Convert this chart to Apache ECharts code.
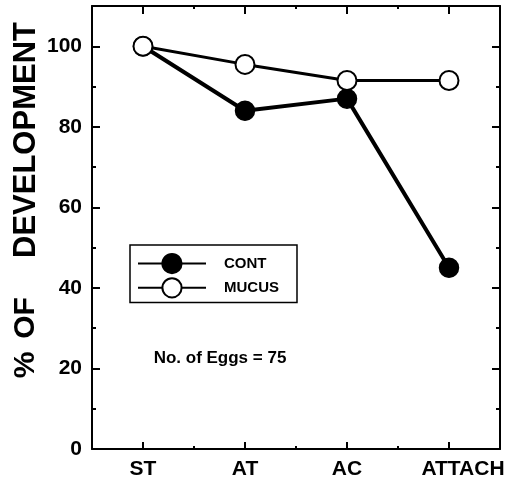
<!DOCTYPE html>
<html>
<head>
<meta charset="utf-8">
<script src="https://cdn.jsdelivr.net/npm/echarts@6/dist/echarts.min.js"></script>
<style>html,body{margin:0;padding:0;background:#fff}#c{width:510px;height:488px}</style>
</head>
<body>
<div id="c"></div>
<script>
const categories = ['ST', 'AT', 'AC', 'ATTACH'];
const contValues = [100, 84, 87, 45];
const mucusValues = [100, 95.5, 91.5, 91.5];
const seriesNames = ['CONT', 'MUCUS'];
const yMin = 0, yMax = 110, yMajor = 20, yMinor = 10;
const yTitleParts = ['DEVELOPMENT', 'OF', '%'];
const noteText = 'No. of Eggs = 75';

const FONT = '"Liberation Sans", Arial, Helvetica, sans-serif';
const chart = echarts.init(document.getElementById('c'), null, {renderer: 'canvas'});

const catData = categories.map(c => c === 'ATTACH'
  ? {value: c, textStyle: {padding: [0, 0, 0, 28]}}
  : c);

const gridBox = {left: 92, right: 10, top: 6, bottom: 39};
const axLine = {show: true, onZero: false, lineStyle: {color: '#000', width: 2}};
const noLine = {show: false, onZero: false};

const option = {
  backgroundColor: '#fff',
  animation: false,
  textStyle: {fontFamily: FONT},
  grid: [Object.assign({}, gridBox), Object.assign({}, gridBox)],
  legend: {
    orient: 'vertical', left: 130, top: 245,
    data: seriesNames,
    itemWidth: 68, itemHeight: 24, itemGap: 3,
    padding: [8, 18, 4, 7],
    borderColor: '#000', borderWidth: 1.5, borderRadius: 0,
    textStyle: {fontFamily: FONT, fontSize: 15, fontWeight: 'bold', color: '#000', padding: [0, 0, 0, 13]},
    lineStyle: {width: 2}
  },
  xAxis: [
    {gridIndex: 0, type: 'category', position: 'bottom', data: catData, boundaryGap: true,
     axisLine: axLine,
     axisTick: {show: true, alignWithLabel: true, inside: true, length: 7, lineStyle: {color: '#000', width: 2}},
     axisLabel: {interval: 0, color: '#000', fontSize: 21, fontWeight: 'bold', fontFamily: FONT, margin: 10, hideOverlap: false},
     splitLine: {show: false}},
    {gridIndex: 0, type: 'category', position: 'top', data: categories, boundaryGap: true,
     axisLine: axLine,
     axisTick: {show: true, alignWithLabel: true, inside: true, length: 8, lineStyle: {color: '#000', width: 2}},
     axisLabel: {show: false}, splitLine: {show: false}},
    {gridIndex: 1, type: 'category', position: 'bottom', data: categories, boundaryGap: true,
     axisLine: noLine,
     axisTick: {show: true, interval: 0, inside: true, length: 3, lineStyle: {color: '#000', width: 2}},
     axisLabel: {show: false}, splitLine: {show: false}},
    {gridIndex: 1, type: 'category', position: 'top', data: categories, boundaryGap: true,
     axisLine: noLine,
     axisTick: {show: true, interval: 0, inside: true, length: 3, lineStyle: {color: '#000', width: 2}},
     axisLabel: {show: false}, splitLine: {show: false}}
  ],
  yAxis: [
    {gridIndex: 0, type: 'value', position: 'left', min: yMin, max: yMax, interval: yMajor,
     axisLine: axLine,
     axisTick: {show: true, inside: true, length: 8, lineStyle: {color: '#000', width: 2}},
     axisLabel: {color: '#000', fontSize: 21, fontWeight: 'bold', fontFamily: FONT, margin: 10, showMaxLabel: false},
     splitLine: {show: false}},
    {gridIndex: 0, type: 'value', position: 'right', min: yMin, max: yMax, interval: yMajor,
     axisLine: axLine,
     axisTick: {show: true, inside: true, length: 8, lineStyle: {color: '#000', width: 2}},
     axisLabel: {show: false}, splitLine: {show: false}},
    {gridIndex: 1, type: 'value', position: 'left', min: yMin, max: yMax, interval: yMinor,
     axisLine: noLine,
     axisTick: {show: true, inside: true, length: 4, lineStyle: {color: '#000', width: 2}},
     axisLabel: {show: false}, splitLine: {show: false}},
    {gridIndex: 1, type: 'value', position: 'right', min: yMin, max: yMax, interval: yMinor,
     axisLine: noLine,
     axisTick: {show: true, inside: true, length: 4, lineStyle: {color: '#000', width: 2}},
     axisLabel: {show: false}, splitLine: {show: false}}
  ],
  series: [
    {name: seriesNames[0], type: 'line', xAxisIndex: 0, yAxisIndex: 0, data: contValues,
     symbol: 'circle', symbolSize: 19,
     lineStyle: {color: '#000', width: 4},
     itemStyle: {color: '#000', borderColor: '#000', borderWidth: 1.5}, z: 2},
    {name: seriesNames[1], type: 'line', xAxisIndex: 0, yAxisIndex: 0, data: mucusValues,
     symbol: 'circle', symbolSize: 19,
     lineStyle: {color: '#000', width: 3},
     itemStyle: {color: '#fff', borderColor: '#000', borderWidth: 2}, z: 3}
  ],
  graphic: [
    {type: 'text', x: 26, y: 140, rotation: Math.PI / 2,
     style: {text: yTitleParts[0], font: 'bold 31px ' + FONT, fill: '#000', textAlign: 'center', textVerticalAlign: 'middle'}},
    {type: 'text', x: 26, y: 318, rotation: Math.PI / 2,
     style: {text: yTitleParts[1], font: 'bold 30px ' + FONT, fill: '#000', textAlign: 'center', textVerticalAlign: 'middle'}},
    {type: 'text', x: 26, y: 365, rotation: Math.PI / 2,
     style: {text: yTitleParts[2], font: 'bold 30px ' + FONT, fill: '#000', textAlign: 'center', textVerticalAlign: 'middle'}},
    {type: 'text', x: 220, y: 358,
     style: {text: noteText, font: 'bold 17px ' + FONT, fill: '#000', textAlign: 'center', textVerticalAlign: 'middle'}}
  ]
};
chart.setOption(option);
</script>
</body>
</html>
